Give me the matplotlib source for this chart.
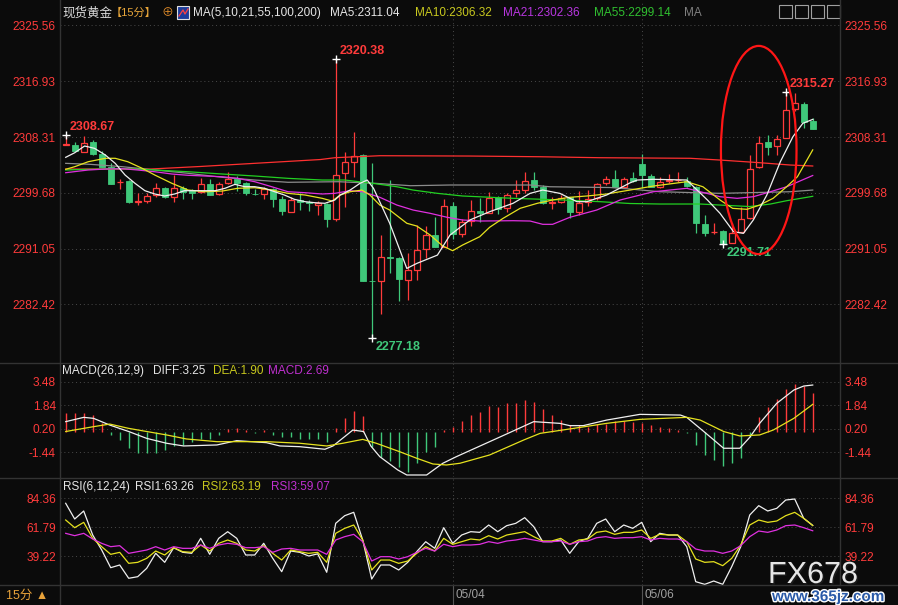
import numpy as np
import matplotlib
matplotlib.use('Agg')
import matplotlib.pyplot as plt
from matplotlib.patches import Rectangle, Ellipse
import matplotlib.patheffects as pe

plt.rcParams['font.family'] = ['Liberation Sans', 'Noto Sans CJK SC', 'DejaVu Sans']

# ---- candle data (15 min gold) ----
opens = [2307.10, 2307.07, 2306.04, 2307.49, 2305.73, 2303.62, 2301.30, 2301.51, 2298.25, 2298.37,
         2299.30, 2300.38, 2298.99, 2300.38, 2300.12, 2299.85, 2301.04, 2299.45, 2301.15, 2301.86,
         2301.24, 2299.55, 2299.45, 2300.22, 2298.77, 2296.76, 2298.50, 2298.30, 2297.80, 2297.95,
         2295.58, 2302.70, 2304.49, 2305.53, 2286.10, 2286.09, 2289.70, 2289.65, 2286.20, 2287.80,
         2291.00, 2293.15, 2291.35, 2297.64, 2293.31, 2295.37, 2296.82, 2296.60, 2299.00, 2297.28,
         2299.60, 2300.12, 2301.66, 2300.63, 2298.10, 2298.21, 2298.98, 2296.76, 2298.30, 2298.83,
         2301.15, 2301.77, 2300.63, 2302.00, 2304.09, 2302.33, 2300.63, 2301.55, 2301.60, 2301.50,
         2300.63, 2294.86, 2293.60, 2293.77, 2291.97, 2293.67, 2295.74, 2303.62, 2307.58, 2306.92,
         2308.20, 2312.59, 2313.41, 2310.78]
highs = [2308.67, 2307.54, 2308.50, 2307.85, 2306.19, 2304.24, 2301.77, 2301.60, 2299.60, 2299.70,
         2301.24, 2300.60, 2302.43, 2300.74, 2300.20, 2301.92, 2301.77, 2301.40, 2302.90, 2302.28,
         2301.40, 2300.20, 2300.60, 2300.40, 2299.23, 2299.08, 2299.60, 2298.50, 2298.40, 2298.10,
         2320.38, 2306.04, 2309.08, 2305.70, 2304.34, 2293.15, 2301.66, 2289.80, 2290.33, 2294.70,
         2294.55, 2295.90, 2298.67, 2298.30, 2295.60, 2298.50, 2298.83, 2299.85, 2299.20, 2299.70,
         2301.66, 2302.94, 2302.85, 2300.90, 2299.08, 2299.34, 2299.10, 2300.00, 2300.12, 2301.25,
         2302.28, 2303.20, 2302.20, 2302.94, 2305.68, 2302.55, 2302.08, 2302.60, 2302.90, 2302.20,
         2300.70, 2296.25, 2295.06, 2293.90, 2294.97, 2297.53, 2305.50, 2308.46, 2308.62, 2308.62,
         2315.27, 2315.07, 2313.77, 2311.20]
lows = [2307.00, 2306.10, 2306.00, 2305.60, 2303.60, 2300.98, 2300.32, 2298.10, 2297.75, 2298.06,
        2299.08, 2298.90, 2298.26, 2298.72, 2298.68, 2299.70, 2299.30, 2299.30, 2301.10, 2300.00,
        2299.35, 2299.30, 2298.72, 2297.44, 2296.20, 2296.70, 2297.00, 2296.80, 2296.30, 2294.47,
        2295.40, 2297.44, 2302.17, 2286.00, 2277.18, 2280.89, 2287.23, 2282.95, 2283.10, 2286.20,
        2289.56, 2291.30, 2291.30, 2292.50, 2292.80, 2294.55, 2295.20, 2296.50, 2296.40, 2296.76,
        2299.08, 2299.60, 2300.12, 2298.00, 2297.20, 2298.10, 2295.74, 2296.25, 2297.70, 2298.50,
        2300.90, 2300.60, 2300.50, 2301.40, 2300.38, 2300.60, 2300.50, 2301.20, 2301.40, 2300.60,
        2293.51, 2293.00, 2293.30, 2291.71, 2291.90, 2293.60, 2295.70, 2303.50, 2305.53, 2305.53,
        2308.10, 2312.40, 2309.66, 2309.50]
closes = [2307.20, 2306.19, 2307.43, 2305.68, 2303.72, 2301.09, 2301.40, 2298.21, 2298.35, 2299.14,
          2300.38, 2298.99, 2300.38, 2299.76, 2299.60, 2301.04, 2299.39, 2301.04, 2301.77, 2301.24,
          2299.60, 2299.45, 2300.32, 2298.77, 2296.82, 2298.57, 2298.20, 2298.06, 2298.10, 2295.68,
          2302.43, 2304.40, 2305.37, 2286.09, 2286.00, 2289.71, 2289.60, 2286.35, 2287.75, 2290.84,
          2293.10, 2291.35, 2297.64, 2293.31, 2295.20, 2296.82, 2296.60, 2298.83, 2297.13, 2299.34,
          2300.10, 2301.46, 2300.63, 2298.06, 2298.20, 2298.92, 2296.76, 2298.15, 2298.72, 2301.04,
          2301.77, 2300.63, 2301.77, 2301.55, 2302.43, 2300.63, 2301.40, 2301.70, 2301.70, 2300.70,
          2294.96, 2293.51, 2293.70, 2291.97, 2293.51, 2295.58, 2303.32, 2307.43, 2306.72, 2307.95,
          2312.48, 2313.52, 2310.68, 2309.55]

# moving averages (bar index, price)
ma5_x = [0, 1.0, 2.1, 3.2, 4.4, 5.5, 6.6, 7.7, 8.8, 9.9, 11.0, 12.1, 13.2, 16.6, 17.7, 18.8, 19.9, 21.0,
         22.1, 23.2, 24.3, 25.4, 26.6, 27.7, 28.8, 29.9, 30.5, 31.6, 32.7, 33.5, 34.2, 36.0, 37.9, 39.0,
         41.3, 42.7, 44.9, 47.1, 49.7, 51.6, 53.0, 54.9, 56.8, 57.9, 60.1, 62.7, 63.5, 65.3, 69.0, 71.3,
         72.7, 74.2, 75.3, 76.4, 77.9, 79.4, 80.8, 81.9, 83.0]
ma5_y = [2305.17, 2305.88, 2306.92, 2306.56, 2305.53, 2304.24, 2302.43, 2301.15, 2300.01, 2299.50,
         2299.19, 2299.50, 2300.01, 2300.01, 2300.38, 2300.99, 2300.63, 2300.63, 2300.38, 2299.86,
         2299.34, 2298.68, 2298.31, 2298.15, 2298.06, 2298.57, 2299.34, 2300.11, 2301.15, 2301.66,
         2300.38, 2294.97, 2287.99, 2288.76, 2290.05, 2293.15, 2295.48, 2296.76, 2298.06, 2299.60,
         2300.11, 2299.60, 2298.31, 2298.31, 2299.34, 2301.22, 2301.66, 2301.77, 2301.66, 2298.57,
         2296.51, 2293.67, 2293.41, 2295.48, 2299.34, 2304.49, 2308.36, 2310.43, 2311.04]
ma10_x = [0, 1.0, 2.5, 4.4, 5.5, 6.9, 8.5, 9.9, 11.8, 13.6, 15.5, 17.4, 19.1, 21.0, 22.9, 24.7, 26.6,
          28.5, 29.6, 30.5, 31.6, 32.9, 33.8, 34.9, 36.0, 37.9, 39.0, 40.5, 41.9, 43.0, 44.1, 46.0,
          47.1, 48.6, 50.5, 52.4, 54.1, 56.0, 57.9, 60.1, 62.7, 65.3, 69.0, 70.8, 72.7, 74.1, 75.7,
          77.1, 78.6, 80.1, 81.3, 83.0]
ma10_y = [2303.32, 2303.72, 2304.49, 2305.02, 2305.02, 2304.49, 2303.47, 2302.43, 2301.15, 2300.11,
          2299.85, 2299.96, 2300.38, 2300.47, 2300.11, 2299.60, 2299.34, 2298.83, 2298.41, 2299.34,
          2299.85, 2300.11, 2299.34, 2297.79, 2297.02, 2294.97, 2294.55, 2293.15, 2291.45, 2290.73,
          2291.61, 2292.89, 2294.35, 2295.74, 2297.29, 2298.06, 2298.57, 2298.99, 2299.19, 2299.50,
          2300.11, 2300.73, 2301.40, 2300.62, 2298.57, 2297.28, 2297.13, 2297.79, 2298.83, 2300.62,
          2302.17, 2306.32]
ma21_x = [0, 2.5, 4.4, 6.3, 8.0, 9.9, 11.8, 13.6, 15.5, 17.4, 19.1, 21.0, 22.9, 24.7, 26.6, 28.5,
          29.9, 31.6, 33.0, 34.9, 36.8, 38.6, 40.5, 42.4, 44.1, 46.0, 49.7, 51.6, 53.0, 54.1, 56.0,
          59.0, 61.6, 65.3, 69.0, 72.7, 74.6, 76.4, 78.3, 80.1, 83.0]
ma21_y = [2302.79, 2303.21, 2303.36, 2303.41, 2303.21, 2302.94, 2302.59, 2302.39, 2302.28, 2302.17,
          2301.92, 2301.40, 2300.62, 2299.85, 2299.70, 2299.50, 2299.60, 2300.01, 2299.85, 2298.99,
          2297.79, 2297.02, 2296.51, 2295.89, 2295.48, 2295.32, 2295.37, 2295.32, 2294.81, 2294.81,
          2295.89, 2297.02, 2298.57, 2299.85, 2300.38, 2299.08, 2298.83, 2299.08, 2299.85, 2300.62,
          2302.36]
ma55_x = [0, 2.5, 6.3, 8.5, 9.9, 13.6, 17.4, 21.0, 24.7, 28.5, 31.0, 34.1, 36.8, 38.6, 41.3, 44.1,
          49.7, 55.3, 59.4, 62.7, 66.0, 70.5, 72.7, 76.0, 78.3, 80.1, 83.0]
ma55_y = [2303.21, 2303.32, 2303.41, 2303.32, 2303.21, 2302.94, 2302.59, 2302.28, 2301.92, 2301.66,
          2301.66, 2301.15, 2300.62, 2300.11, 2299.60, 2299.19, 2298.83, 2298.57, 2298.31, 2298.03,
          2297.95, 2297.95, 2297.79, 2297.56, 2297.95, 2298.46, 2299.14]
ma100_x = [0, 2.7, 6.3, 9.9, 13.6, 17.4, 21.0, 24.7, 30.3, 34.4, 38.3, 42.7, 51.6, 53.8, 60.5, 62.7,
           66.0, 72.7, 80.5, 83.0]
ma100_y = [2304.24, 2304.09, 2303.72, 2303.21, 2302.70, 2302.08, 2301.66, 2301.31, 2301.40, 2301.15,
           2300.78, 2300.89, 2300.89, 2300.62, 2300.50, 2300.27, 2299.85, 2299.60, 2299.85, 2300.11]
ma200_x = [0, 9.4, 14.9, 21.6, 28.3, 29.9, 34.9, 44.9, 52.7, 59.4, 69.4, 72.7, 77.1, 80.5, 83.0]
ma200_y = [2303.36, 2303.36, 2303.75, 2304.29, 2304.83, 2305.11, 2305.42, 2305.37, 2305.26, 2305.11,
           2305.02, 2304.75, 2304.34, 2303.98, 2303.83]

# MACD(26,12,9)
macd_hist = [1.27, 1.27, 1.30, 1.16, 0.57, -0.24, -0.59, -1.17, -1.52, -1.52,
             -1.47, -1.29, -1.01, -0.94, -0.71, -0.52, -0.52, -0.24, 0.15, 0.22,
             0.12, -0.08, 0.12, -0.24, -0.36, -0.40, -0.52, -0.52, -0.52, -0.71,
             0.22, 0.92, 1.45, 1.08, -1.10, -1.76, -2.04, -2.46, -2.81, -2.22,
             -1.41, -1.06, 0.12, 0.29, 0.73, 1.15, 1.38, 1.78, 1.73, 1.97,
             2.01, 2.20, 2.08, 1.57, 1.15, 0.80, 0.45, 0.45, 0.34, 0.52,
             0.52, 0.73, 0.73, 0.70, 0.57, 0.45, 0.34, 0.27, 0.10, -0.13,
             -0.94, -1.64, -1.99, -2.41, -2.22, -1.87, -0.36, 0.99, 1.69, 2.25,
             2.95, 3.32, 3.18, 2.69]
diff_x = [0, 2.0, 3.1, 4.9, 7.0, 9.0, 11.2, 13.1, 16.8, 19.0, 22.3, 23.8, 26.0, 28.8, 29.7, 31.9,
          33.1, 33.9, 34.9, 36.9, 37.9, 40.1, 41.9, 43.4, 47.1, 49.0, 52.0, 54.9, 56.0, 57.5, 60.1,
          63.8, 68.3, 69.0, 70.9, 73.1, 74.9, 76.0, 77.1, 79.0, 80.9, 82.0, 83.0]
diff_y = [0.69, 0.99, 0.92, 0.45, 0.00, -0.48, -0.82, -1.01, -0.94, -0.64, -0.78, -1.01, -1.06,
          -1.24, -1.01, 0.10, 0.00, -1.01, -1.76, -2.69, -3.04, -3.04, -2.22, -1.76, -0.71, -0.17,
          0.69, 0.57, 0.41, 0.41, 0.80, 1.20, 1.15, 0.99, 0.00, -1.17, -1.17, -0.41, 0.57, 1.97,
          2.90, 3.18, 3.25]
dea_x = [0, 3.1, 4.9, 7.0, 9.0, 11.2, 13.4, 16.8, 18.6, 22.3, 26.0, 29.0, 30.8, 33.0, 34.5, 37.1,
         39.0, 40.8, 42.3, 43.8, 47.1, 50.9, 52.7, 55.7, 60.1, 63.8, 69.0, 70.5, 73.1, 74.9, 77.1,
         78.6, 80.9, 83.0]
dea_y = [0.00, 0.34, 0.52, 0.22, 0.00, -0.24, -0.52, -0.71, -0.71, -0.71, -0.82, -1.01, -0.82,
         -0.55, -0.82, -1.41, -1.87, -2.27, -2.34, -2.22, -1.64, -0.59, -0.13, 0.15, 0.57, 0.85,
         0.99, 0.80, 0.00, -0.31, -0.24, 0.10, 0.92, 1.90]

# RSI(6,12,24)
rsi1 = [80.57, 68.28, 74.54, 55.77, 44.03, 30.20, 32.30, 21.90, 23.15, 29.70,
        41.45, 34.40, 45.83, 42.23, 41.45, 53.18, 40.67, 53.18, 58.35, 53.18,
        40.12, 40.12, 49.27, 37.54, 27.06, 43.25, 42.23, 39.34, 41.00, 26.60,
        64.92, 70.87, 73.52, 51.85, 21.34, 32.30, 32.30, 28.40, 34.40, 42.70,
        50.50, 45.36, 61.50, 49.24, 55.76, 58.37, 57.85, 63.58, 58.37, 63.06,
        64.89, 69.32, 62.28, 50.55, 50.55, 51.85, 41.42, 50.55, 53.15, 64.89,
        68.28, 58.37, 63.58, 60.98, 65.67, 50.55, 57.07, 55.76, 55.76, 46.63,
        19.25, 17.17, 19.77, 17.17, 30.99, 46.63, 71.41, 78.71, 74.54, 76.62,
        83.14, 83.92, 68.80, 63.26]
rsi2 = [67.50, 61.50, 65.67, 53.15, 46.63, 40.64, 42.20, 33.60, 34.38, 37.50,
        43.24, 40.11, 45.85, 42.72, 42.20, 47.94, 43.24, 49.24, 51.85, 49.24,
        44.03, 43.24, 47.42, 41.42, 36.20, 44.03, 42.72, 41.42, 42.20, 34.38,
        57.07, 60.98, 63.58, 51.85, 28.38, 36.20, 36.20, 33.60, 35.42, 41.42,
        46.63, 43.24, 53.15, 48.46, 50.55, 52.63, 51.85, 55.24, 52.63, 55.76,
        57.07, 58.37, 54.46, 51.07, 51.07, 53.15, 48.46, 51.85, 52.63, 57.85,
        58.89, 56.28, 57.85, 57.85, 59.67, 53.15, 56.28, 55.76, 55.76, 50.55,
        36.99, 34.38, 34.90, 31.77, 37.50, 47.94, 63.58, 67.50, 65.67, 66.71,
        70.89, 73.49, 68.80, 63.19]
rsi3 = [57.07, 55.24, 57.07, 52.63, 49.24, 46.63, 47.42, 41.42, 42.72, 44.03,
        46.63, 44.03, 46.63, 45.33, 45.33, 47.94, 45.33, 47.94, 49.24, 48.46,
        45.85, 45.85, 46.63, 42.20, 44.81, 45.33, 44.03, 44.03, 44.03, 40.64,
        51.85, 54.46, 56.28, 50.55, 35.42, 38.81, 38.81, 36.99, 38.81, 42.20,
        45.33, 43.24, 48.50, 46.63, 47.94, 47.94, 48.46, 50.55, 49.24, 51.07,
        51.85, 53.15, 51.85, 50.55, 50.55, 51.07, 48.46, 50.55, 51.07, 53.67,
        54.46, 53.15, 53.67, 53.67, 54.46, 51.85, 53.15, 52.63, 52.63, 50.55,
        44.81, 43.24, 43.24, 41.42, 43.24, 47.42, 54.46, 58.89, 57.85, 59.67,
        63.06, 63.58, 61.50, 59.07]

price_ticks = [2325.56, 2316.93, 2308.31, 2299.68, 2291.05, 2282.42]
macd_ticks = [3.48, 1.84, 0.20, -1.44]
rsi_ticks = [84.36, 61.79, 39.22]
date_idx = [43, 64]
date_labels = ['05/04', '05/06']
# marked extremes: (bar, price, is_high)
marks = [(0, 2308.67, True), (30, 2320.38, True), (80, 2315.27, True),
         (34, 2277.18, False), (73, 2291.71, False)]

# ---- colours ----
BG = '#0b0b0b'
RED = '#ff3b3b'
GREEN = '#3fc87a'
YEL = '#e6e21e'
MAG = '#e030e0'
GRID = '#4a4a4a'
LINE = '#333333'

W, H = 898, 605
fig = plt.figure(figsize=(W / 100, H / 100), dpi=100, facecolor=BG)


def fx(x):
    return x / W


def fy(y):
    return 1 - y / H


ax = fig.add_axes([fx(60), fy(362), 780 / W, 360 / H])
ax_macd = fig.add_axes([fx(60), fy(477), 780 / W, 114 / H])
ax_rsi = fig.add_axes([fx(60), fy(585), 780 / W, 107 / H])


def style(a, ylim, ticks):
    a.set_facecolor(BG)
    a.set_xlim(-0.633, 86.03)
    a.set_ylim(ylim)
    a.set_xticks([])
    a.set_yticks(ticks)
    a.set_yticklabels([f'{t:.2f}' for t in ticks])
    a.tick_params(axis='y', left=True, right=True, labelleft=True, labelright=True,
                  length=0, colors=RED, labelsize=8.6, pad=3)
    for s in a.spines.values():
        s.set_visible(False)
    a.grid(axis='y', color=GRID, ls=(0, (1, 3)), lw=0.7)
    for d in date_idx:
        a.axvline(d, color=GRID, ls=(0, (1, 3)), lw=0.7)


style(ax, (2273.52, 2329.19), price_ticks)
style(ax_macd, (-3.18, 4.79), macd_ticks)
style(ax_rsi, (16.65, 100.36), rsi_ticks)

# ---- candles ----
o = np.array(opens)
hi = np.array(highs)
lo = np.array(lows)
c = np.array(closes)
idx = np.arange(len(o))
up = c >= o
ax.vlines(idx, lo, hi, colors=np.where(up, RED, GREEN), lw=0.9, zorder=2)
ax.bar(idx[up], np.maximum(c[up] - o[up], 0.05), bottom=o[up], width=0.66,
       facecolor=BG, edgecolor=RED, lw=0.9, zorder=3)
ax.bar(idx[~up], np.maximum(o[~up] - c[~up], 0.05), bottom=c[~up], width=0.66,
       facecolor=GREEN, edgecolor=GREEN, lw=0.6, zorder=3)

# moving averages
ax.plot(ma200_x, ma200_y, color='#ff3030', lw=0.9, zorder=4)
ax.plot(ma100_x, ma100_y, color='#8c8c8c', lw=0.9, zorder=4)
ax.plot(ma55_x, ma55_y, color='#22d022', lw=0.9, zorder=4)
ax.plot(ma21_x, ma21_y, color=MAG, lw=0.9, zorder=4)
ax.plot(ma10_x, ma10_y, color=YEL, lw=0.9, zorder=4)
ax.plot(ma5_x, ma5_y, color='#f0f0f0', lw=0.9, zorder=5)

for i, v, is_high in marks:
    ax.plot(i, v, marker='+', color='white', ms=6, mew=1.0, zorder=6)
    ax.annotate(f'{v:.2f}', xy=(i, v), xytext=(4, 8 if is_high else -9),
                textcoords='offset pixels', color=RED if is_high else GREEN,
                fontsize=9, fontweight='bold', va='center', ha='left', zorder=7)

ax.add_patch(Ellipse((77.0, 2306.3), width=8.4, height=32.2, fill=False,
                     edgecolor='#ff1616', lw=1.6, zorder=8))

# ---- MACD ----
h = np.array(macd_hist)
ax_macd.vlines(idx, 0, h, colors=np.where(h >= 0, RED, GREEN), lw=1.0)
ax_macd.plot(diff_x, diff_y, color='#f0f0f0', lw=0.9)
ax_macd.plot(dea_x, dea_y, color=YEL, lw=0.9)

# ---- RSI ----
ax_rsi.plot(idx, rsi1, color='#f0f0f0', lw=0.9)
ax_rsi.plot(idx, rsi2, color=YEL, lw=0.9)
ax_rsi.plot(idx, rsi3, color=MAG, lw=0.9)

# ---- panel frame lines ----
for yy in (362.5, 477.5, 585):
    fig.add_artist(plt.Line2D([0, 1], [fy(yy), fy(yy)], transform=fig.transFigure, color=LINE, lw=1))
fig.add_artist(plt.Line2D([fx(60), fx(60)], [0, 1], transform=fig.transFigure, color=LINE, lw=1))
fig.add_artist(plt.Line2D([fx(840), fx(840)], [fy(585), 1], transform=fig.transFigure, color=LINE, lw=1))

# date labels along the bottom strip
for d, lab in zip(date_idx, date_labels):
    ax_rsi.plot([d, d], [0, -0.19], transform=ax_rsi.get_xaxis_transform(), color='#555555',
                lw=0.8, clip_on=False)
    ax_rsi.annotate(lab, xy=(d, 0), xycoords=('data', 'axes fraction'), xytext=(3, -10),
                    textcoords='offset pixels', color='#a0a0a0', fontsize=8.5, va='center', ha='left')
fig.text(fx(6), fy(596), '15分 ▲', color='#e8a23a', fontsize=9, va='center', ha='left')

# ---- headers ----
def htext(x, y, s, col, size=8.5):
    fig.text(fx(x), fy(y), s, color=col, fontsize=size, va='center', ha='left')


htext(62, 13, '现货黄金', '#dcdcdc', 9)
htext(111, 13, '【15分】', '#e8a63a', 8)
htext(161, 13, '⊕', '#e8902a', 8.5)
fig.add_artist(Rectangle((fx(177), fy(19)), 12 / W, 13 / H, transform=fig.transFigure,
                         facecolor='#1c3c9c', edgecolor='#e0e0e0', lw=0.8))
fig.add_artist(plt.Line2D([fx(179), fx(183), fx(185), fx(188)], [fy(16), fy(10), fy(14), fy(9)],
                          transform=fig.transFigure, color='#ff4040', lw=0.9))
htext(193, 13, 'MA(5,10,21,55,100,200)', '#e6e6e6')
htext(330, 13, 'MA5:2311.04', '#e6e6e6')
htext(415, 13, 'MA10:2306.32', '#c8c81e')
htext(503, 13, 'MA21:2302.36', '#b836e0')
htext(594, 13, 'MA55:2299.14', '#30c030')
htext(684, 13, 'MA', '#808080')
for xx in (779, 795, 811, 827):
    fig.add_artist(Rectangle((fx(xx), fy(18)), 13 / W, 13 / H, transform=fig.transFigure,
                             facecolor='none', edgecolor='#a0a0a0', lw=0.8))

htext(62, 371, 'MACD(26,12,9)', '#e6e6e6')
htext(153, 371, 'DIFF:3.25', '#e6e6e6')
htext(213, 371, 'DEA:1.90', '#c8c81e')
htext(268, 371, 'MACD:2.69', '#c030d0')

htext(63, 487, 'RSI(6,12,24)', '#e6e6e6')
htext(135, 487, 'RSI1:63.26', '#e6e6e6')
htext(202, 487, 'RSI2:63.19', '#c8c81e')
htext(271, 487, 'RSI3:59.07', '#c030d0')

# watermark
fig.text(fx(768), fy(575), 'FX678', color='#e6e6e6', fontsize=22, va='center', ha='left',
         path_effects=[pe.withSimplePatchShadow(offset=(1, -1), shadow_rgbFace='#404040')])
fig.text(fx(772), fy(597), 'www.365jz.com', color='#2a5aa8', fontsize=11, fontweight='bold',
         va='center', ha='left', path_effects=[pe.withStroke(linewidth=2, foreground='white')])

fig.savefig('out.png', dpi=100, facecolor=BG)
